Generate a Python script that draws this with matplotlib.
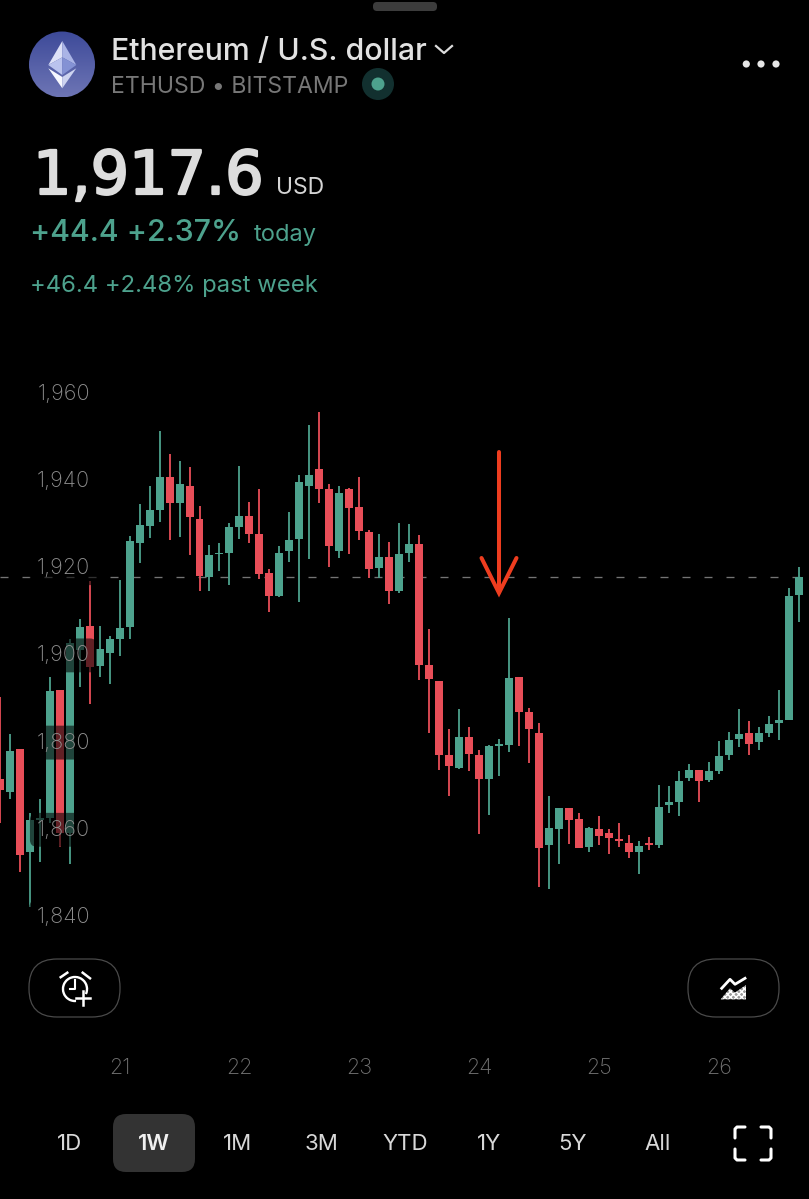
import matplotlib
matplotlib.use("Agg")
import matplotlib.pyplot as plt
import matplotlib.patheffects as pe
from matplotlib.patches import Circle, FancyBboxPatch, Polygon, Arc
import numpy as np

plt.rcParams['font.family'] = ['Inter', 'DejaVu Sans']
plt.rcParams['lines.scale_dashes'] = False

# ---------- data (prices) ----------
open_ = [1871.1,1868.1,1878.0,1854.5,1861.9,1862.2,1891.5,1858.7,1900.8,1906.3,1897.1,1900.2,1903.3,1906.0,1925.4,1929.2,1933.0,1940.5,1934.5,1938.3,1930.8,1917.6,1922.7,1923.1,1929.1,1931.5,1927.3,
         1918.4,1913.2,1923.6,1926.2,1938.4,1942.3,1937.6,1923.6,1937.7,1933.5,1927.8,1919.5,1922.0,1914.4,1923.0,1925.1,1897.3,1893.7,1876.8,1873.8,1880.9,1876.8,1871.2,1878.8,1879.1,1894.7,1886.6,
         1881.8,1856.1,1859.8,1864.5,1862.1,1855.6,1859.7,1858.7,1857.5,1856.4,1854.5,1856.6,1856.1,1865.3,1865.9,1871.4,1873.2,1871.0,1873.0,1876.8,1880.3,1881.7,1879.6,1881.8,1884.1,1884.8,1913.5]
high = [1890.1,1881.4,1878.0,1863.5,1866.6,1894.5,1891.5,1903.4,1907.8,1916.5,1906.3,1904.0,1916.8,1927.0,1934.3,1938.5,1950.9,1945.7,1944.2,1942.8,1933.7,1924.9,1925.4,1930.0,1943.0,1934.7,1937.6,
        1919.4,1924.6,1932.4,1940.9,1952.5,1955.4,1938.8,1938.5,1937.9,1940.5,1928.3,1927.5,1925.6,1930.0,1929.6,1927.2,1905.7,1893.7,1882.6,1887.2,1883.2,1877.8,1879.1,1880.3,1908.2,1894.7,1887.4,
        1884.0,1867.4,1864.6,1864.5,1863.3,1860.1,1862.8,1859.7,1861.1,1858.3,1856.9,1858.0,1869.8,1869.6,1873.1,1874.7,1873.2,1875.0,1879.8,1881.9,1887.3,1884.6,1883.2,1885.7,1891.6,1914.9,1919.9]
low = [1861.0,1866.5,1849.9,1841.8,1852.2,1861.2,1855.5,1851.7,1892.2,1888.4,1894.7,1893.0,1899.5,1903.3,1920.7,1926.4,1930.2,1925.9,1926.8,1922.6,1914.3,1914.2,1918.8,1915.6,1926.2,1925.4,1917.1,
       1909.6,1912.9,1921.0,1911.9,1921.6,1934.6,1919.9,1921.8,1922.9,1926.0,1917.4,1917.4,1911.4,1913.8,1921.0,1893.8,1881.7,1873.3,1867.3,1873.6,1873.1,1858.6,1862.9,1871.9,1877.4,1878.8,1874.9,
       1846.5,1846.0,1851.6,1856.2,1855.3,1854.5,1856.0,1854.1,1855.5,1853.0,1849.3,1855.0,1855.3,1863.5,1862.8,1870.7,1866.0,1870.4,1872.3,1875.6,1878.6,1876.6,1877.8,1880.8,1880.2,1884.8,1907.3]
close = [1868.7,1877.7,1853.8,1861.8,1862.2,1891.4,1858.7,1902.3,1906.0,1896.8,1900.9,1903.4,1905.9,1925.8,1929.5,1932.9,1940.5,1934.4,1938.8,1931.2,1917.7,1922.5,1923.1,1929.0,1931.6,1927.5,1918.1,
         1913.2,1923.1,1926.0,1939.2,1940.9,1937.6,1924.6,1936.9,1933.4,1928.0,1919.3,1922.0,1914.3,1922.9,1925.1,1897.4,1894.2,1876.7,1874.2,1880.8,1876.9,1871.2,1878.8,1879.1,1894.4,1886.6,1882.7,
         1855.3,1859.9,1864.6,1861.8,1855.3,1860.0,1858.2,1857.6,1857.0,1854.5,1855.8,1856.1,1864.7,1865.9,1870.8,1873.3,1870.7,1873.0,1876.5,1880.2,1881.4,1879.3,1881.7,1883.7,1884.7,1913.2,1917.6]
last_price = 1917.6
y_ticks = [1840, 1860, 1880, 1900, 1920, 1940, 1960]
y_tick_labels = ['1,840', '1,860', '1,880', '1,900', '1,920', '1,940', '1,960']
day_positions = [12, 24, 36, 48, 60, 72]   # candle index at each midnight
day_labels = ['21', '22', '23', '24', '25', '26']
ranges = ['1D', '1W', '1M', '3M', 'YTD', '1Y', '5Y', 'All']

GREEN = '#4DA28D'
RED = '#E84E58'
W, H = 809, 1199

fig = plt.figure(figsize=(W / 100, H / 100), dpi=100, facecolor='black')

# ---------- chart ----------
top_px, bot_px = 340, 1090
ax = fig.add_axes([0, 1 - bot_px / H, 1, (bot_px - top_px) / H], facecolor='black')
ax.set_xlim(0.03, 81.01)
ax.set_ylim(1940 - (bot_px - 479) / 4.36, 1940 + (479 - top_px) / 4.36)
for s in ax.spines.values():
    s.set_visible(False)

o, h, l, c = map(np.array, (open_, high, low, close))
idx = np.arange(len(o))
colors = [GREEN if cc >= oo else RED for oo, cc in zip(o, c)]
ax.axhline(last_price, color='#747474', lw=0.95, ls=(0, (5.76, 10.08)), zorder=0.5)
ax.vlines(idx, l, h, colors=colors, lw=1.3, zorder=1)
ax.bar(idx, np.maximum(np.abs(c - o), 0.4), bottom=np.minimum(o, c), width=0.8,
       color=colors, lw=0, zorder=1.5)

ax.set_axisbelow(False)
ax.set_yticks(y_ticks)
ax.set_yticklabels(y_tick_labels, fontsize=15.6, color='#8e8e8e', fontweight='light',
                   bbox=dict(boxstyle='round,pad=0.32', fc='black', ec='none', alpha=0.58))
ax.set_xticks(day_positions)
ax.set_xticklabels(day_labels, fontsize=15.5, color='#727272', fontweight='light')
ax.tick_params(axis='y', length=0, pad=-64.8)
ax.tick_params(axis='x', length=0, pad=-23)

# ---------- app interface around the chart ----------
ui = fig.add_axes([0, 0, 1, 1], facecolor='none')
ui.set_axis_off()

grad = np.linspace(0, 1, 64)[:, None]
img = ui.imshow(np.dstack([0.24 + 0.19 * grad, 0.29 + 0.17 * grad, 0.60 + 0.11 * grad]),
                extent=(29, 95, 97.5, 31.5), aspect='auto', zorder=1)
img.set_clip_path(Circle((62, 64.5), 33, transform=ui.transData))
ui.set_xlim(0, W)
ui.set_ylim(H, 0)


def T(x, y, s, size, color, weight='normal', ha='left', va='baseline', **kw):
    return ui.text(x, y, s, fontsize=size, color=color, fontweight=weight, ha=ha, va=va, zorder=5, **kw)


ui.add_patch(FancyBboxPatch((373, 2), 64, 9, boxstyle='round,pad=0,rounding_size=4', fc='#3c3c3c', ec='none'))
# logo diamond
for pts, col in [
    ([(62.3, 41), (48.3, 65), (62.3, 57.3)], '#DDE1F7'),
    ([(62.3, 41), (76.3, 65), (62.3, 57.3)], '#AAB4E6'),
    ([(48.3, 65), (62.3, 57.3), (62.3, 75)], '#BAC3EE'),
    ([(76.3, 65), (62.3, 57.3), (62.3, 75)], '#8492D4'),
    ([(48.3, 68.3), (62.3, 88.3), (62.3, 77)], '#F7F8FE'),
    ([(76.3, 68.3), (62.3, 88.3), (62.3, 77)], '#CDD3F0'),
]:
    ui.add_patch(Polygon(pts, closed=True, fc=col, ec='none', zorder=3))

T(111, 60, 'Ethereum / U.S. dollar', 21.8, '#E2E2E2', 'medium')
ui.plot([436, 444, 452], [46, 53, 46], color='#DDDDDD', lw=1.6, zorder=5)
T(111, 93, 'ETHUSD • BITSTAMP', 16.6, '#777777')
ui.add_patch(Circle((378, 84), 16, fc='#12302F', ec='none'))
ui.add_patch(Circle((378, 84), 6.5, fc=GREEN, ec='none'))
for cx in (746.3, 761, 776):
    ui.add_patch(Circle((cx, 64), 3.6, fc='#E6E6E6', ec='none'))

T(33, 194, '1,917.6', 43.5, '#DDDDDD', 'normal', family=['DejaVu Sans'],
  path_effects=[pe.withStroke(linewidth=1.6, foreground='#DDDDDD')])
T(276, 194, 'USD', 16.5, '#D5D5D5')
T(30, 241, '+44.4 +2.37%', 21.8, GREEN, 'medium')
T(254, 241, 'today', 17, GREEN)
T(30, 292, '+46.4 +2.48% past week', 17.2, GREEN)

# arrow annotation
ARROW = '#EE3D1F'
ui.plot([499, 499], [452, 592], color=ARROW, lw=2.9, solid_capstyle='round', zorder=6)
ui.plot([481.5, 499, 516.5], [558, 593, 558], color=ARROW, lw=2.9, solid_capstyle='round',
        solid_joinstyle='miter', zorder=6)

# buttons
for x0 in (29, 688):
    ui.add_patch(FancyBboxPatch((x0, 959), 91, 58, boxstyle='round,pad=0,rounding_size=28',
                                fc='black', ec='#4a4a4a', lw=0.9, zorder=2))
# alarm icon
ui.add_patch(Arc((75, 989), 24, 24, theta1=85, theta2=25, color='white', lw=1.7, zorder=5))
ui.plot([75, 75, 70], [980, 989, 989], color='white', lw=1.5, zorder=5)
ui.plot([83.3, 83.3], [991, 1005], color='white', lw=1.8, zorder=5)
ui.plot([76.5, 90.5], [997.7, 997.7], color='white', lw=1.8, zorder=5)
ui.plot([60.7, 67.3], [977.2, 972.7], color='white', lw=1.8, zorder=5)
ui.plot([82.7, 90], [972.7, 978.3], color='white', lw=1.8, zorder=5)
# chart-type icon
ui.plot([721.7, 730, 735, 745], [988.3, 979.3, 984.3, 978.3], color='white', lw=2, zorder=5)
ui.add_patch(Polygon([(720.7, 999.3), (730, 988.3), (735, 992.7), (746, 985), (746, 999.3)],
                     closed=True, fc='#9a9a9a', ec='white', lw=0, hatch='xxxxxx', zorder=5))

# range selector
ui.add_patch(FancyBboxPatch((113, 1114), 82, 58, boxstyle='round,pad=0,rounding_size=13',
                            fc='#333333', ec='none', zorder=2))
for x, lab in zip((70, 154, 238, 322, 405, 489, 573, 658), ranges):
    active = lab == '1W'
    T(x, 1144.5, lab, 16, '#F0F0F0' if active else '#D8D8D8', 'semibold' if active else 'normal',
      ha='center', va='center')
# fullscreen icon
for (xa, ya, sx, sy) in [(735, 1127, 1, 1), (771, 1127, -1, 1), (735, 1160, 1, -1), (771, 1160, -1, -1)]:
    ui.plot([xa + 10 * sx, xa + 2 * sx, xa, xa], [ya, ya, ya + 2 * sy, ya + 11 * sy],
            color='white', lw=2.2, solid_capstyle='round', zorder=5)

fig.savefig('out.png', dpi=100, facecolor='black')
